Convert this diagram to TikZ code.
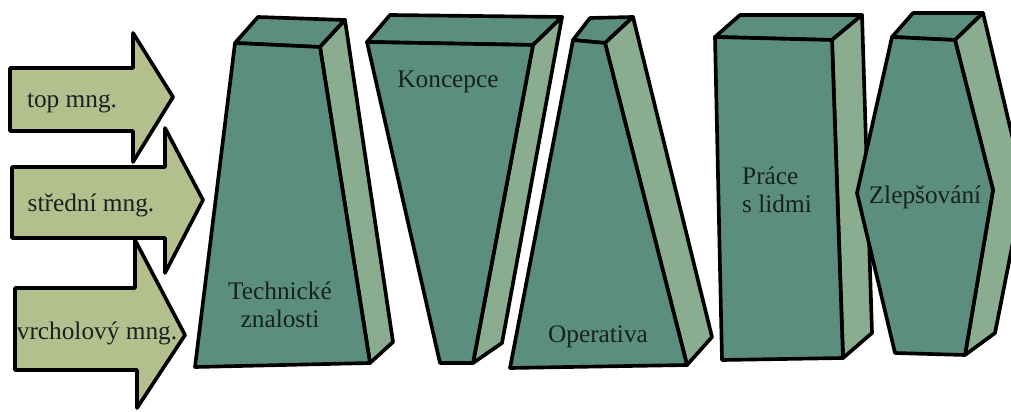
\documentclass[tikz,border=0pt]{standalone}
\usepackage{fontspec}
\setmainfont{Liberation Serif}
\usepackage{tikz}
\usetikzlibrary{calc}
\definecolor{Sage}{HTML}{B3C08E}
\definecolor{Pine}{HTML}{5C8E80}
\definecolor{Moss}{HTML}{8AAD8F}
\definecolor{Ink}{HTML}{16221E}
\tikzset{
  outline/.style={draw=black, line width=2.6pt, line join=round},
  arrowshape/.style={outline, fill=Sage},
  frontface/.style={outline, fill=Pine},
  sideface/.style={outline, fill=Moss},
  topface/.style={outline, fill=Pine},
  caption/.style={text=Ink, font=\fontsize{18}{20}\selectfont, inner sep=0pt}
}

\begin{document}
\begin{tikzpicture}[x=0.025cm, y=-0.025cm]
  \useasboundingbox (0,0) rectangle (1011,412);
  \clip (0,0) rectangle (1011,412);

  % block arrows on the left
  \draw[arrowshape] (10,68) -- (133,68) -- (133,33) -- (173,97) -- (133,162) -- (133,131) -- (10,131) -- cycle;
  \draw[arrowshape] (12,167) -- (165,167) -- (165,128) -- (203,200) -- (165,273) -- (165,238) -- (12,238) -- cycle;
  \draw[arrowshape] (15,288) -- (135,288) -- (135,240) -- (185,335) -- (137,408) -- (137,370) -- (15,370) -- cycle;
  \node[caption] (top) at (72,103) {top mng.};
  \node[caption] (mid) at (91,205) {střední mng.};
  \node[caption] (vrch) at (97,333) {vrcholový mng.};

  % Technicke znalosti
  \draw[topface] (235,43) -- (258,17) -- (345,20) -- (320,47) -- cycle;
  \draw[sideface] (320,47) -- (345,20) -- (393,342) -- (370,363) -- cycle;
  \draw[frontface] (235,43) -- (320,47) -- (370,363) -- (195,367) -- cycle;
  \node[caption, align=center] (tech) at (280,305) {Technické\\znalosti};

  % Koncepce
  \draw[topface] (367,42) -- (390,15) -- (562,17) -- (533,45) -- cycle;
  \draw[sideface] (533,45) -- (562,17) -- (502,343) -- (473,363) -- cycle;
  \draw[frontface] (367,42) -- (533,45) -- (473,363) -- (440,363) -- cycle;
  \node[caption] (konc) at (448,82) {Koncepce};

  % Operativa
  \draw[topface] (573,40) -- (590,18) -- (633,17) -- (605,43) -- cycle;
  \draw[sideface] (605,43) -- (633,17) -- (712,337) -- (687,365) -- cycle;
  \draw[frontface] (573,40) -- (605,43) -- (687,365) -- (510,368) -- cycle;
  \node[caption] (oper) at (598,337) {Operativa};

  % Prace s lidmi
  \draw[topface] (715,37) -- (740,15) -- (862,15) -- (832,40) -- cycle;
  \draw[sideface] (832,40) -- (862,15) -- (872,333) -- (843,358) -- cycle;
  \draw[frontface] (715,37) -- (832,40) -- (843,358) -- (722,360) -- cycle;
  \node[caption, align=left] (prace) at (777,190) {Práce\\s lidmi};

  % Zlepsovani
  \draw[topface] (892,37) -- (913,13) -- (983,13) -- (955,40) -- cycle;
  \draw[sideface] (955,40) -- (983,13) -- (1024,186) -- (995,333) -- (965,355) -- (993,190) -- cycle;
  \draw[frontface] (892,37) -- (955,40) -- (993,190) -- (965,355) -- (895,353) -- (857,193) -- cycle;
  \node[caption] (zlep) at (925,197) {Zlepšování};
\end{tikzpicture}
\end{document}
